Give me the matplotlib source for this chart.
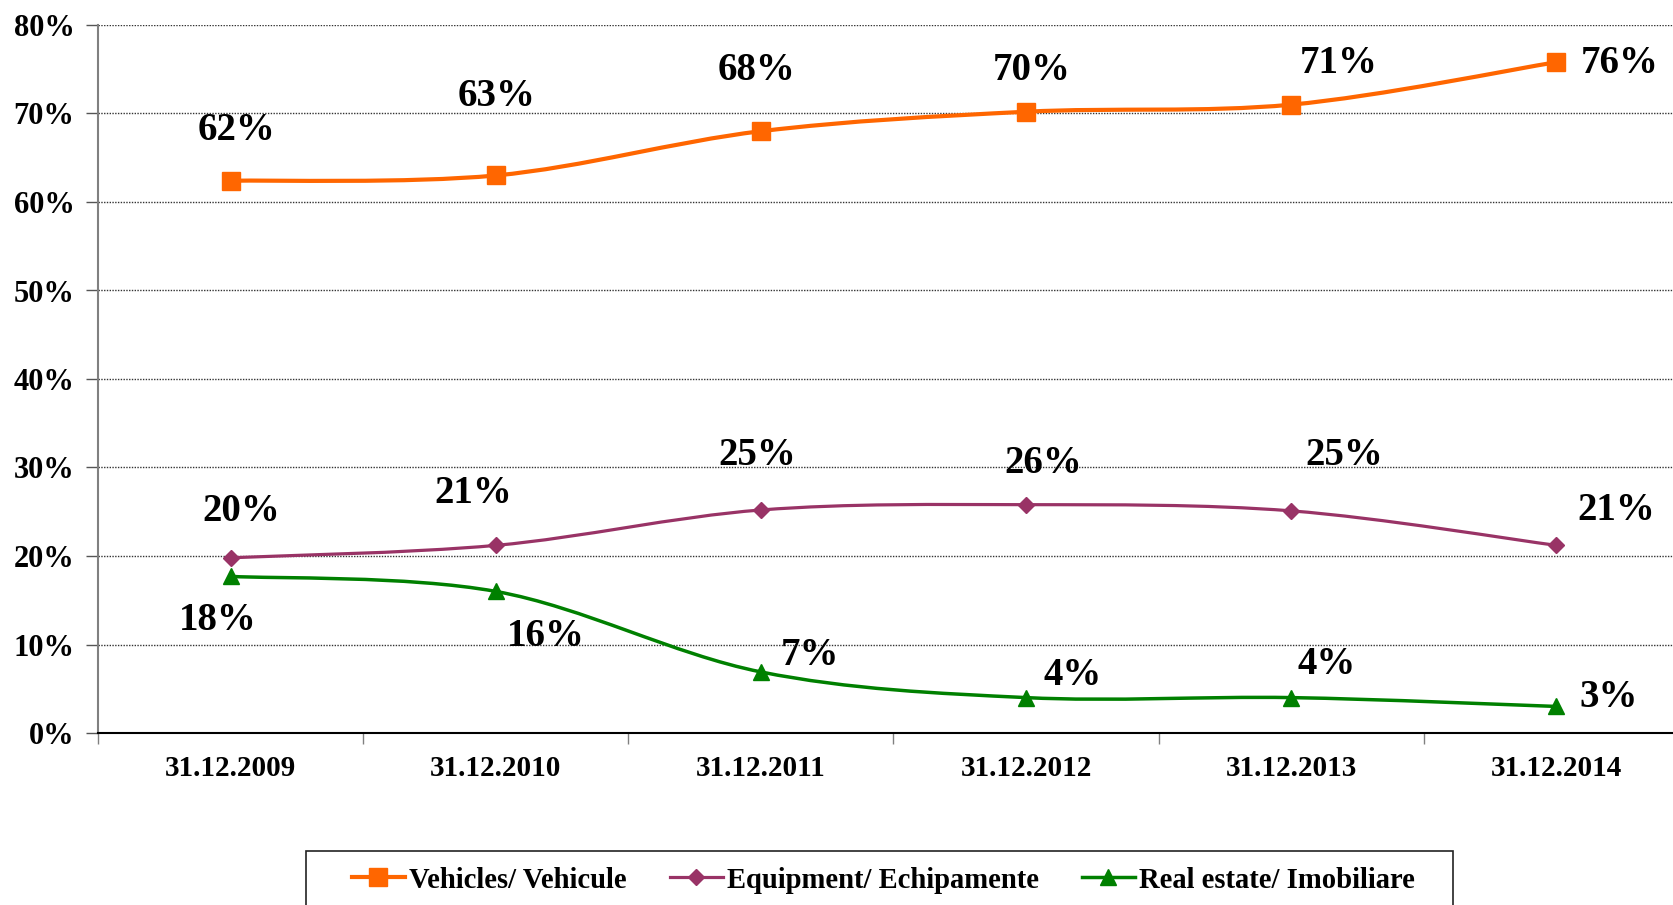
import numpy as np
import matplotlib
matplotlib.use("Agg")
import matplotlib.pyplot as plt
from matplotlib.path import Path
from matplotlib.patches import PathPatch, Rectangle
from matplotlib.lines import Line2D

# -------------------------------
# DATA
# -------------------------------
dates = ["31.12.2009", "31.12.2010", "31.12.2011", "31.12.2012", "31.12.2013", "31.12.2014"]
vehicles = [62.4, 63.0, 68.0, 70.2, 71.0, 75.8]
vehicles_lbl = ["62%", "63%", "68%", "70%", "71%", "76%"]
equipment = [19.8, 21.2, 25.2, 25.8, 25.1, 21.2]
equipment_lbl = ["20%", "21%", "25%", "26%", "25%", "21%"]
realestate = [17.7, 16.0, 6.9, 4.0, 4.0, 3.0]
realestate_lbl = ["18%", "16%", "7%", "4%", "4%", "3%"]
yticks = [0, 10, 20, 30, 40, 50, 60, 70, 80]

# label offsets (pixels, relative to marker)
veh_off = [(6, 50), (1, 79), (-4, 61), (6, 41), (47, 41), (63, -1)]
eq_off = [(11, 46), (-22, 52), (-4, 54), (17, 41), (53, 55), (60, 35)]
re_off = [(-13, -44), (50, -45), (49, 16), (47, 22), (35, 33), (52, 9)]

FONT = "Liberation Serif"
plt.rcParams["font.family"] = [FONT, "DejaVu Serif"]
plt.rcParams["font.weight"] = "bold"
W, H = 1673, 905


def smooth_path(xs, ys):
    # Excel-like smoothed line: cubic Bezier through the points
    pts = np.column_stack([xs, ys]).astype(float)
    n = len(pts)
    verts = [pts[0]]
    codes = [Path.MOVETO]
    for i in range(n - 1):
        p0 = pts[i - 1] if i > 0 else pts[i]
        p1, p2 = pts[i], pts[i + 1]
        p3 = pts[i + 2] if i + 2 < n else pts[i + 1]
        c1 = p1 + (p2 - p0) / 6.0
        c2 = p2 - (p3 - p1) / 6.0
        verts += [c1, c2, p2]
        codes += [Path.CURVE4] * 3
    return Path(verts, codes)


fig = plt.figure(figsize=(W / 100, H / 100), dpi=100)
ax = fig.add_axes([98 / W, 1 - 733 / H, (1689 - 98) / W, 708 / H])

x = np.arange(len(dates))
series = [
    (vehicles, vehicles_lbl, veh_off, "#FF6600", "s", 13, 3.0, "Vehicles/ Vehicule"),
    (equipment, equipment_lbl, eq_off, "#993366", "D", 8.5, 2.3, "Equipment/ Echipamente"),
    (realestate, realestate_lbl, re_off, "#008000", "^", 12, 2.5, "Real estate/ Imobiliare"),
]

handles = []
for vals, lbls, offs, col, mk, ms, lw, name in series:
    ax.add_patch(PathPatch(smooth_path(x, vals), facecolor="none", edgecolor=col,
                           lw=lw, zorder=3, capstyle="round"))
    ax.plot(x, vals, ls="none", marker=mk, ms=ms, color=col, zorder=4)
    for xi, v, t, o in zip(x, vals, lbls, offs):
        ax.annotate(t, (xi, v), xytext=o, textcoords="offset pixels",
                    ha="center", va="center", fontsize=28, fontweight="bold")
    handles.append(Line2D([], [], color=col, lw=lw, marker=mk, ms=ms, label=name))

ax.set_xlim(-0.5, len(dates) - 0.5)
ax.set_ylim(0, 80)
ax.set_yticks(yticks)
ax.set_yticklabels([f"{v}%" for v in yticks], fontsize=22, fontweight="bold")
ax.set_xticks(x)
ax.set_xticklabels(dates, fontsize=21, fontweight="bold")
ax.set_xticks(np.arange(len(dates) + 1) - 0.5, minor=True)
ax.tick_params(axis="x", which="major", length=0, pad=16)
ax.tick_params(axis="x", which="minor", length=8, width=1, color="#808080")
ax.tick_params(axis="y", length=9, width=1, color="#555555", pad=8)
ax.yaxis.grid(True, ls=(0, (1, 1)), color="#333333", lw=1)
ax.set_axisbelow(True)
for s in ["top", "right"]:
    ax.spines[s].set_visible(False)
ax.spines["left"].set_color("#808080")
ax.spines["left"].set_linewidth(1.5)
ax.spines["bottom"].set_color("black")
ax.spines["bottom"].set_linewidth(1.5)

# legend box (runs off the bottom edge like the original)
fig.patches.append(Rectangle((306 / W, -0.05), (1453 - 306) / W, 0.05 + 1 - 851 / H,
                             transform=fig.transFigure, facecolor="white",
                             edgecolor="#222222", lw=1.2, zorder=1))
leg = fig.legend(handles=handles, loc="center left", bbox_to_anchor=(352 / W, 1 - 880 / H),
                 ncol=3, frameon=False,
                 prop={"family": FONT, "weight": "bold", "size": 20.6},
                 handlelength=1.85, handletextpad=0.15, columnspacing=1.5,
                 borderpad=0, borderaxespad=0)
leg.set_zorder(2)

fig.savefig("out.png", dpi=100)
